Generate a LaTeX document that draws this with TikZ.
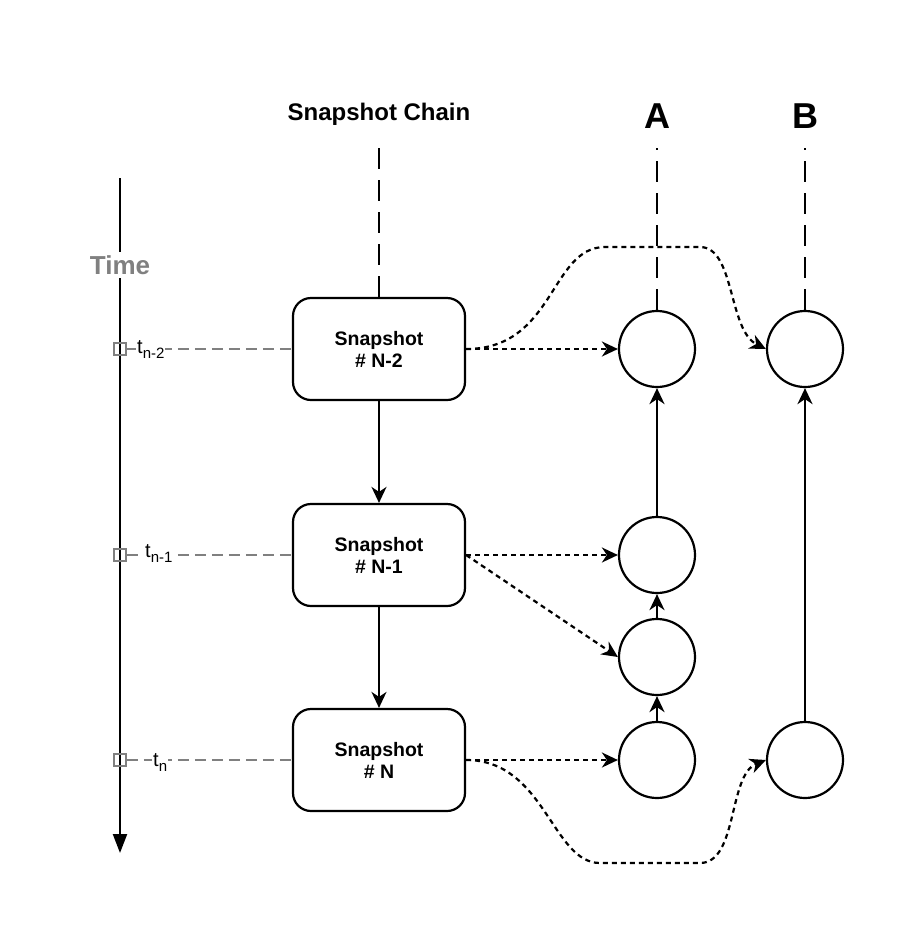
\documentclass[tikz,border=0pt]{standalone}
\usepackage{fontspec}
\setmainfont{Liberation Sans}
\usetikzlibrary{arrows.meta}
\definecolor{tgray}{RGB}{128,128,128}
\begin{document}
\begin{tikzpicture}[x=1pt,y=-1pt,
  snap/.style={draw, line width=2.2pt, rounded corners=18pt, minimum width=172pt, minimum height=102pt, align=center, font=\fontsize{19.5}{22}\selectfont\bfseries, inner sep=0pt},
  ver/.style={circle, draw, line width=2.2pt, minimum size=76pt, inner sep=0pt},
  head/.style={font=\fontsize{24}{26}\selectfont\bfseries},
  colhead/.style={font=\fontsize{36}{38}\selectfont\bfseries},
  longdash/.style={line width=2.2pt, dash pattern=on 21pt off 11pt},
  solidarrow/.style={line width=2.2pt, -{Stealth[length=16pt,width=15pt,inset=5pt]}},
  dotarrow/.style={line width=2.2pt, dash pattern=on 5pt off 4pt, -{Stealth[length=16pt,width=15pt,inset=5pt]}},
  tick/.style={draw=tgray, line width=1.8pt, minimum size=12pt, inner sep=0pt},
  gline/.style={draw=tgray, line width=2.2pt, dash pattern=on 11pt off 6pt},
  tlabel/.style={fill=white, inner sep=1pt, anchor=base west, font=\fontsize{20}{21}\selectfont},
]
\useasboundingbox (0,0) rectangle (918,946);

% time axis
\coordinate (ttop) at (120,178);
\coordinate (tbot) at (120,853);
\draw[line width=2.2pt, -{Triangle[length=19pt,width=14pt]}] (ttop) -- (tbot);
\node[fill=white, text=tgray, inner sep=3pt, font=\fontsize{26}{28}\selectfont\bfseries] (time) at (120,265) {Time};

% snapshot boxes
\node[snap] (b1) at (379,349) {Snapshot\\\# N-2};
\node[snap] (b2) at (379,555) {Snapshot\\\# N-1};
\node[snap] (b3) at (379,760) {Snapshot\\\# N};

% ticks and time labels
\node[tick] (s1) at (120,349) {};
\node[tick] (s2) at (120,555) {};
\node[tick] (s3) at (120,760) {};
\draw[gline] (s1.east) -- (b1.west);
\draw[gline] (s2.east) -- (b2.west);
\draw[gline] (s3.east) -- (b3.west);
\node[tlabel] (l1) at (136,353) {t\raisebox{-5pt}{\fontsize{15}{15}\selectfont n-2}};
\node[tlabel] (l2) at (144,557) {t\raisebox{-5pt}{\fontsize{15}{15}\selectfont n-1}};
\node[tlabel] (l3) at (152,766) {t\raisebox{-5pt}{\fontsize{15}{15}\selectfont n}};

% headings
\node[head] (sc) at (379,114) {Snapshot Chain};
\node[colhead] (ha) at (657,116) {A};
\node[colhead] (hb) at (805,116) {B};

% circles
\node[ver] (A1) at (657,349) {};
\node[ver] (A2) at (657,555) {};
\node[ver] (A3) at (657,657) {};
\node[ver] (A4) at (657,760) {};
\node[ver] (B1) at (805,349) {};
\node[ver] (B2) at (805,760) {};

% long dashed columns
\coordinate (sctop) at (379,148);
\coordinate (atop) at (657,148);
\coordinate (btop) at (805,148);
\draw[longdash] (b1.north) -- (sctop);
\draw[longdash] (A1.north) -- (atop);
\draw[longdash] (B1.north) -- (btop);

% solid arrows
\draw[solidarrow] (b1.south) -- (b2.north);
\draw[solidarrow] (b2.south) -- (b3.north);
\draw[solidarrow] (A2.north) -- (A1.south);
\draw[solidarrow] (A3.north) -- (A2.south);
\draw[solidarrow] (A4.north) -- (A3.south);
\draw[solidarrow] (B2.north) -- (B1.south);

% dotted arrows
\draw[dotarrow] (b1.east) -- (A1.west);
\draw[dotarrow] (b2.east) -- (A2.west);
\draw[dotarrow] (b2.east) -- (A3.west);
\draw[dotarrow] (b3.east) -- (A4.west);
\draw[dotarrow] (b1.east) .. controls (555,349) and (550,247) .. (605,247) -- (700,247) .. controls (735,247) and (728,330) .. (B1.west);
\draw[dotarrow] (b3.east) .. controls (545,760) and (552,863) .. (600,863) -- (700,863) .. controls (738,863) and (728,775) .. (B2.west);
\end{tikzpicture}
\end{document}
